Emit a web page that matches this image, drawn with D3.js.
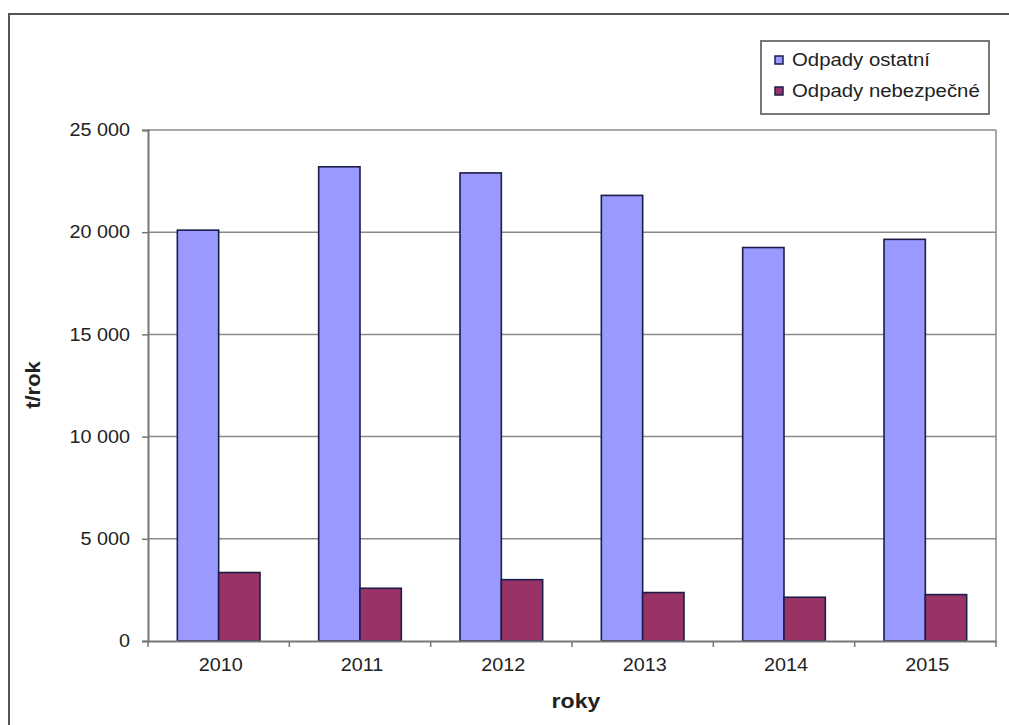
<!DOCTYPE html>
<html>
<head>
<meta charset="utf-8">
<script src="https://cdn.jsdelivr.net/npm/d3@7"></script>
<style>
  html, body { margin: 0; padding: 0; background: #fff; }
  svg { display: block; }
  text { font-family: "Liberation Sans", Arial, sans-serif; fill: #222; }
</style>
</head>
<body>
<svg id="chart" width="1009" height="725"></svg>
<script>
const years = ["2010", "2011", "2012", "2013", "2014", "2015"];
const seriesNames = ["Odpady ostatní", "Odpady nebezpečné"];
const ostatni = [20100, 23200, 22900, 21800, 19250, 19650];
const nebezpecne = [3350, 2580, 3000, 2370, 2140, 2270];
const yTicks = [0, 5000, 10000, 15000, 20000, 25000];
const yTickLabels = ["0", "5 000", "10 000", "15 000", "20 000", "25 000"];
const seriesColors = ["#9999FF", "#993366"];
const xTitle = "roky";
const yTitle = "t/rok";

const SX = 1.1; // horizontal stretch of the reference text
const svg = d3.select("#chart");
const plot = { left: 148, right: 996, top: 130, bottom: 641 };

// outer frame (left and top edges visible)
svg.append("path")
  .attr("d", `M9,725 L9,14 L1009,14`)
  .attr("fill", "none").attr("stroke", "#555").attr("stroke-width", 2);

const x0 = d3.scaleBand().domain(years).range([plot.left, plot.right]).paddingInner(0).paddingOuter(0);
const x1 = d3.scaleBand().domain([0, 1]).range([0, x0.bandwidth()]).paddingOuter(0.71).paddingInner(0);
const y = d3.scaleLinear().domain([0, 25000]).range([plot.bottom, plot.top]);

// gridlines
svg.append("g").selectAll("line").data(yTicks.slice(1)).join("line")
  .attr("x1", plot.left).attr("x2", plot.right)
  .attr("y1", d => y(d)).attr("y2", d => y(d))
  .attr("stroke", "#8a8a8a").attr("stroke-width", 1.5);

// right border of plot area
svg.append("line").attr("x1", plot.right).attr("x2", plot.right)
  .attr("y1", plot.top).attr("y2", plot.bottom)
  .attr("stroke", "#8a8a8a").attr("stroke-width", 1.5);

// bars
const data = years.map((yr, i) => ({ yr, vals: [ostatni[i], nebezpecne[i]] }));
const groups = svg.append("g").selectAll("g").data(data).join("g")
  .attr("transform", d => `translate(${x0(d.yr)},0)`);
groups.selectAll("rect").data(d => d.vals.map((v, k) => ({ v, k }))).join("rect")
  .attr("x", d => x1(d.k))
  .attr("y", d => y(d.v))
  .attr("width", x1.bandwidth())
  .attr("height", d => y(0) - y(d.v))
  .attr("fill", d => seriesColors[d.k])
  .attr("stroke", "#1c1c4a").attr("stroke-width", 1.6);

// y axis
const yAxis = d3.axisLeft(y).tickValues(yTicks)
  .tickFormat((d, i) => yTickLabels[i]).tickSize(6).tickPadding(12);
const gy = svg.append("g").attr("transform", `translate(${plot.left},0)`).call(yAxis);
gy.select(".domain").attr("stroke", "#777").attr("stroke-width", 2);
gy.selectAll(".tick line").attr("stroke", "#777").attr("stroke-width", 1.5);
gy.selectAll(".tick text").attr("font-size", 18).attr("font-family", "Liberation Sans, Arial, sans-serif").attr("fill", "#222")
  .attr("x", 0).attr("transform", `translate(-18,0) scale(${SX},1)`);

// x axis
const xAxis = d3.axisBottom(x0).tickSize(0).tickPadding(17);
const gx = svg.append("g").attr("transform", `translate(0,${plot.bottom})`).call(xAxis);
gx.select(".domain").attr("stroke", "#777").attr("stroke-width", 2);
gx.selectAll(".tick text").attr("font-size", 18).attr("font-family", "Liberation Sans, Arial, sans-serif").attr("fill", "#222")
  .attr("transform", `scale(${SX},1)`).attr("x", 2 / SX);
// category boundary ticks
svg.append("g").selectAll("line").data(years.concat(["end"])).join("line")
  .attr("x1", (d, i) => i < years.length ? x0(d) : plot.right)
  .attr("x2", (d, i) => i < years.length ? x0(d) : plot.right)
  .attr("y1", plot.bottom).attr("y2", plot.bottom + 6)
  .attr("stroke", "#777").attr("stroke-width", 1.5);

// axis titles
svg.append("text").attr("transform", `translate(${(plot.left + plot.right) / 2 + 4},708) scale(${SX},1)`)
  .attr("text-anchor", "middle").attr("font-size", 21).attr("font-weight", "bold").text(xTitle);
svg.append("text").attr("transform", `translate(40,385) rotate(-90) scale(${SX},1)`)
  .attr("text-anchor", "middle").attr("font-size", 20).attr("font-weight", "bold").text(yTitle);

// legend
const lg = svg.append("g");
lg.append("rect").attr("x", 761).attr("y", 41).attr("width", 228).attr("height", 73)
  .attr("fill", "#fff").attr("stroke", "#777").attr("stroke-width", 2);
seriesNames.forEach((name, i) => {
  const cy = 60 + i * 31;
  lg.append("rect").attr("x", 775).attr("y", cy - 4).attr("width", 8).attr("height", 8)
    .attr("fill", seriesColors[i]).attr("stroke", "#1c1c4a").attr("stroke-width", 1.5);
  lg.append("text").attr("transform", `translate(792,${cy + 6}) scale(${SX},1)`)
    .attr("font-size", 18.5).text(name);
});
</script>
</body>
</html>
